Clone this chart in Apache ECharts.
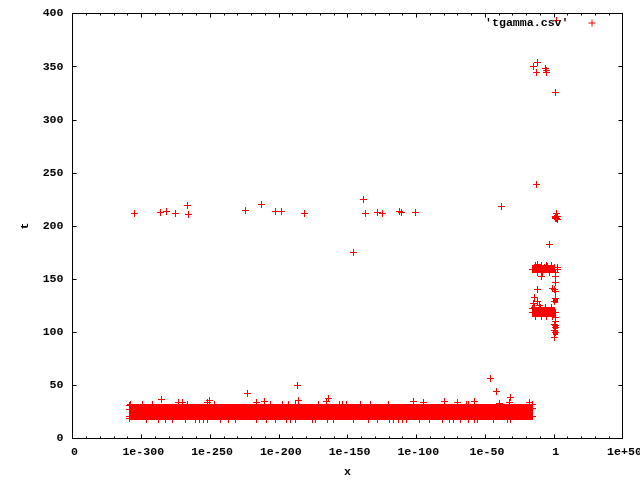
<!DOCTYPE html>
<html><head><meta charset="utf-8">
<style>html,body{margin:0;padding:0;background:#fff}#c{width:640px;height:480px}</style>
<script src="https://cdn.jsdelivr.net/npm/echarts@6/dist/echarts.min.js"></script>
</head><body><div id="c"></div>
<script>
// x values are stored as base-10 exponents; the gnuplot axis labels "0" at its low end.
const xTickExp = [-350,-300,-250,-200,-150,-100,-50,0,50];
const xTickLabels = ['0','1e-300','1e-250','1e-200','1e-150','1e-100','1e-50','1','1e+50'];
const seriesName = "'tgamma.csv'";

// individually readable points
const pointExp = [1.7,-11.9,-14.8,-12.9,-6.3,-5.6,-5.3,1,
 -305,-286.3,-281.4,-275.2,-266.4,-265.7,-224.2,-212.5,-202.3,-197.9,-181.2,
 -138.2,-136.7,-128,-124.4,-112,-110.5,-100.3,-37.7,-145.5,-12.9,-3.4,
 -285.4,-273,-270,-250.4,-251.9,-222.7,-216.4,-186.3,-210.3,-185.6,-165.6,-163.7,
 -101.8,-94.5,-79.2,-70.1,-58,-45.7,-41.3,-31.8,-39.1,-32.5,-18,
 -308.2,-308.2,-308.2,-308.2,-15.3,-15.3,-15.3,
 -15.8,-11.6,2.6,0.2,-4.3,-6.5,1.5,-9,1,1,-12.1,0.2,-0.7,1,2.6,
 -13,-9,-5,-2,-12,-8,-3,
 -13.8,-11.9,-14.8,-10.7,0.2,1.5,-15.8,-15.8,1,1,1,0.2,1.5,1,0.2,1,0.2,
 -14,-10,-6,-2,-13,-9,-5,-1,
 2.2,1.5,2.5,1,2,1.5,2.8];
const pointT = [393.4,354.2,349.8,344.2,348.2,346,344.2,325.4,
 211.5,212.4,213.3,211.5,219,210.5,214.3,219.9,213.3,213.3,211.5,
 224.6,211.5,212.4,211.5,213.3,212.4,212.4,218,174.8,238.8,182.3,
 36.4,33.9,33.9,35.8,33.9,42,33.9,49.6,34.8,35.5,35.1,37.4,
 34.5,33.9,34.5,33.9,34.5,56.2,43.9,38.6,33.2,34.2,34.2,
 31,27.3,21,18.5,32,28.5,21,
 159.3,163.8,159,160.9,161.9,160.9,156.2,152.8,152.5,147,140,140,141,138,161,
 162.6,162.6,162.6,162.6,156.6,156.6,156.6,
 133,129.2,126.8,125.2,129.2,131.5,118.6,122.4,118.6,113.9,110.4,107.3,105.9,104.5,101.2,99.5,95.1,
 123.5,123.5,123.5,123.5,114.5,114.5,114.5,114.5,
 211.5,209,208.5,208,207.5,207,206.5];

// edges of the dense band: spikes above and below the solid mass
const bandTopExp = [-307.5,-299.4,-292.1,-266.1,-246.8,-206.2,-197.4,-193,-188,-171.2,-155.9,-153.7,-150.8,-140.6,-133.3,-120.4,-63.6,-61.9];
const bandTopT = 32;
const bandBottomExp = [-296.5,-287.6,-282.2,-277.4,-267.6,-260.8,-257.9,-254.8,-251.9,-242.6,-236.6,-231.7,-215.9,-208.6,-202.5,-194.5,-191.1,-188,-175.8,-173.4,-164.4,-160.1,-145.9,-134.6,-128.4,-119.5,-116.3,-112.7,-110.2,-107.1,-97.4,-90.1,-80.6,-75.5,-73,-67.7,-61.7,-57.5,-55.6,-43.5,-33.3,-31.3];
const bandBottomT = 17.9;

// solid masses where the points overlap completely
const massExpLow  = [-308.2,-15,-16,-0.9,-0.9,-0.9,0.2];
const massExpHigh = [-15.3,1,1,2.9,2.9,2.9,3.2];
const massTLow    = [17,156.2,114.8,127,103.5,98,205.5];
const massTHigh   = [32.5,162.8,123.3,132,107,101.6,210];

const points = pointExp.map((e,i)=>[e,pointT[i]])
  .concat(bandTopExp.map(e=>[e,bandTopT]))
  .concat(bandBottomExp.map(e=>[e,bandBottomT]));
const masses = massExpLow.map((e,i)=>[e,massExpHigh[i],massTLow[i],massTHigh[i]]);

const plus = 'path://M0 3.5L7 3.5M3.5 0L3.5 7';
const font = '"Liberation Mono","DejaVu Sans Mono",monospace';
const ink = '#000', red = '#ff0000';
const tickFmt = v => xTickLabels[xTickExp.indexOf(v)] ?? '';
const lineStyle = {color:ink,width:1};

const chart = echarts.init(document.getElementById('c'),null,{renderer:'canvas'});
chart.setOption({
  animation:false,
  backgroundColor:'#fff',
  grid:{left:72.5,right:17.5,top:13.5,bottom:41.5,outerBoundsMode:'none'},
  legend:{
    data:[{name:seriesName}],
    right:44,top:17,align:'right',padding:0,
    itemWidth:7,itemHeight:7,selectedMode:false,
    icon:plus,
    itemStyle:{color:red,borderColor:red,borderWidth:1},
    textStyle:{fontFamily:font,fontSize:11.6,fontWeight:'bold',color:ink,padding:[0,15,0,0]}
  },
  xAxis:[{
    type:'value',min:-350,max:50,interval:50,
    name:'x',nameLocation:'middle',nameGap:28,
    nameTextStyle:{fontFamily:font,fontSize:11.6,fontWeight:'bold',color:ink},
    axisLine:{lineStyle,onZero:false},
    axisTick:{inside:true,length:4,lineStyle},
    minorTick:{show:true,splitNumber:5,length:2,lineStyle},
    splitLine:{show:false},
    axisLabel:{formatter:tickFmt,fontFamily:font,fontSize:11.6,fontWeight:'bold',color:ink,margin:8,padding:[0,0,0,4],hideOverlap:false,showMinLabel:true,showMaxLabel:true}
  },{
    type:'value',position:'top',min:-350,max:50,interval:50,
    axisLine:{lineStyle,onZero:false},
    axisTick:{inside:true,length:4,lineStyle},
    minorTick:{show:true,splitNumber:5,length:2,lineStyle},
    splitLine:{show:false},axisLabel:{show:false}
  }],
  yAxis:[{
    type:'value',min:0,max:400,interval:50,
    name:'t',nameLocation:'middle',nameGap:41,nameRotate:90,
    nameTextStyle:{fontFamily:font,fontSize:11.6,fontWeight:'bold',color:ink},
    axisLine:{show:true,lineStyle,onZero:false},
    axisTick:{inside:true,length:4,lineStyle},
    splitLine:{show:false},
    axisLabel:{fontFamily:font,fontSize:11.6,fontWeight:'bold',color:ink,margin:9,padding:[2,0,0,0]}
  },{
    type:'value',position:'right',min:0,max:400,interval:50,
    axisLine:{show:true,lineStyle,onZero:false},
    axisTick:{inside:true,length:4,lineStyle},
    splitLine:{show:false},axisLabel:{show:false}
  }],
  series:[{
    type:'custom',name:'mass',silent:true,clip:true,
    encode:{x:[0,1],y:[2,3]},
    data:masses,
    renderItem:(p,api)=>{
      const a=api.coord([api.value(0),api.value(3)]), b=api.coord([api.value(1),api.value(2)]);
      return {type:'rect',shape:{x:Math.round(a[0]),y:Math.round(a[1]),width:Math.round(b[0]-a[0]),height:Math.round(b[1]-a[1])},style:{fill:red}};
    }
  },{
    // pixel-snapped plus marks, as in the bitmap terminal
    type:'custom',name:seriesName,silent:true,clip:false,
    encode:{x:0,y:1},
    data:points,
    renderItem:(p,api)=>{
      const c=api.coord([api.value(0),api.value(1)]), x=Math.floor(c[0]), y=Math.floor(c[1]);
      return {type:'group',children:[
        {type:'rect',shape:{x:x-3,y:y,width:7,height:1},style:{fill:red}},
        {type:'rect',shape:{x:x,y:y-3,width:1,height:7},style:{fill:red}}
      ]};
    }
  }]
});
</script></body></html>
